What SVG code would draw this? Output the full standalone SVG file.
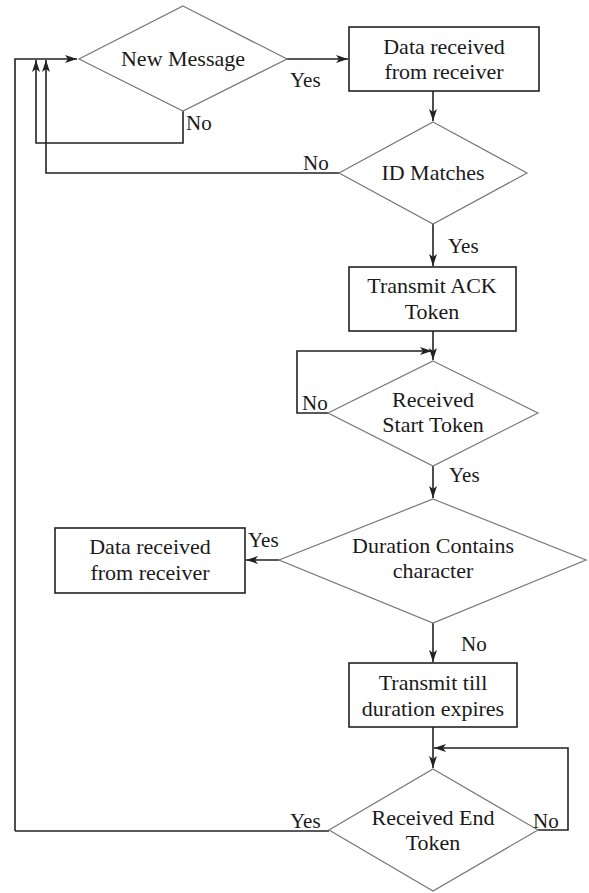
<svg xmlns="http://www.w3.org/2000/svg" width="589" height="893" viewBox="0 0 589 893">
<style>
.dia{fill:#fff;stroke:#777;stroke-width:1.2}
.box{fill:#fff;stroke:#222;stroke-width:1.6}
text{font-family:'Liberation Serif','Times New Roman',serif;fill:#1a1a1a}
.t{font-size:22px;text-anchor:middle}
.l{font-size:21px}
.c{fill:none;stroke:#222;stroke-width:1.6}
</style>
<defs>
<marker id="a" viewBox="0 0 12 8" refX="12" refY="4" markerWidth="12" markerHeight="8" markerUnits="userSpaceOnUse" orient="auto">
<path d="M0,0 L12,4 L0,8 L3,4 Z" fill="#222"/>
</marker>
</defs>
<rect width="589" height="893" fill="#fff"/>
<g id="connectors">
<path class="c" d="M286,59 H348" marker-end="url(#a)"/>
<path class="c" d="M433,91 V121" marker-end="url(#a)"/>
<path class="c" d="M183,111 V143 H36 V60" marker-end="url(#a)"/>
<path class="c" d="M339,173 H46 V60" marker-end="url(#a)"/>
<path class="c" d="M15,831 V59 H77" marker-end="url(#a)"/>
<path class="c" d="M433,224 V266" marker-end="url(#a)"/>
<path class="c" d="M433,331 V360" marker-end="url(#a)"/>
<path class="c" d="M328,413 H297 V351 H432" marker-end="url(#a)"/>
<path class="c" d="M433,466 V498" marker-end="url(#a)"/>
<path class="c" d="M279,560 H246" marker-end="url(#a)"/>
<path class="c" d="M433,623 V662" marker-end="url(#a)"/>
<path class="c" d="M433,727 V768" marker-end="url(#a)"/>
<path class="c" d="M538,830 H568 V748 H434" marker-end="url(#a)"/>
<path class="c" d="M329,831 H15"/>
</g>
<g id="new-message">
<polygon class="dia" points="183,6 287,59 183,111 79,59"/>
<text class="t" x="183" y="66">New Message</text>
</g>
<g id="data-received-1">
<rect class="box" x="349" y="27" width="190" height="64"/>
<text class="t" x="444" y="54">Data received</text>
<text class="t" x="444" y="79">from receiver</text>
</g>
<g id="id-matches">
<polygon class="dia" points="433,122 527,173 433,224 339,173"/>
<text class="t" x="433" y="180">ID Matches</text>
</g>
<g id="transmit-ack">
<rect class="box" x="349" y="267" width="167" height="64"/>
<text class="t" x="432" y="293">Transmit ACK</text>
<text class="t" x="432" y="319">Token</text>
</g>
<g id="received-start">
<polygon class="dia" points="433,361 538,413 433,466 328,413"/>
<text class="t" x="433" y="407">Received</text>
<text class="t" x="433" y="432">Start Token</text>
</g>
<g id="duration-contains">
<polygon class="dia" points="433,499 586,560 433,623 279,560"/>
<text class="t" x="433" y="553">Duration Contains</text>
<text class="t" x="433" y="578">character</text>
</g>
<g id="data-received-2">
<rect class="box" x="55" y="528" width="190" height="65"/>
<text class="t" x="150" y="554">Data received</text>
<text class="t" x="150" y="580">from receiver</text>
</g>
<g id="transmit-till">
<rect class="box" x="349" y="663" width="168" height="64"/>
<text class="t" x="433" y="690">Transmit till</text>
<text class="t" x="433" y="716">duration expires</text>
</g>
<g id="received-end">
<polygon class="dia" points="433,769 538,830 433,891 329,830"/>
<text class="t" x="433" y="825">Received End</text>
<text class="t" x="433" y="850">Token</text>
</g>
<g id="labels">
<text class="l" x="290" y="87">Yes</text>
<text class="l" x="186" y="130">No</text>
<text class="l" x="303" y="170">No</text>
<text class="l" x="448" y="253">Yes</text>
<text class="l" x="302" y="410">No</text>
<text class="l" x="449" y="482">Yes</text>
<text class="l" x="248" y="547">Yes</text>
<text class="l" x="461" y="651">No</text>
<text class="l" x="290" y="828">Yes</text>
<text class="l" x="533" y="828">No</text>
</g>
</svg>
